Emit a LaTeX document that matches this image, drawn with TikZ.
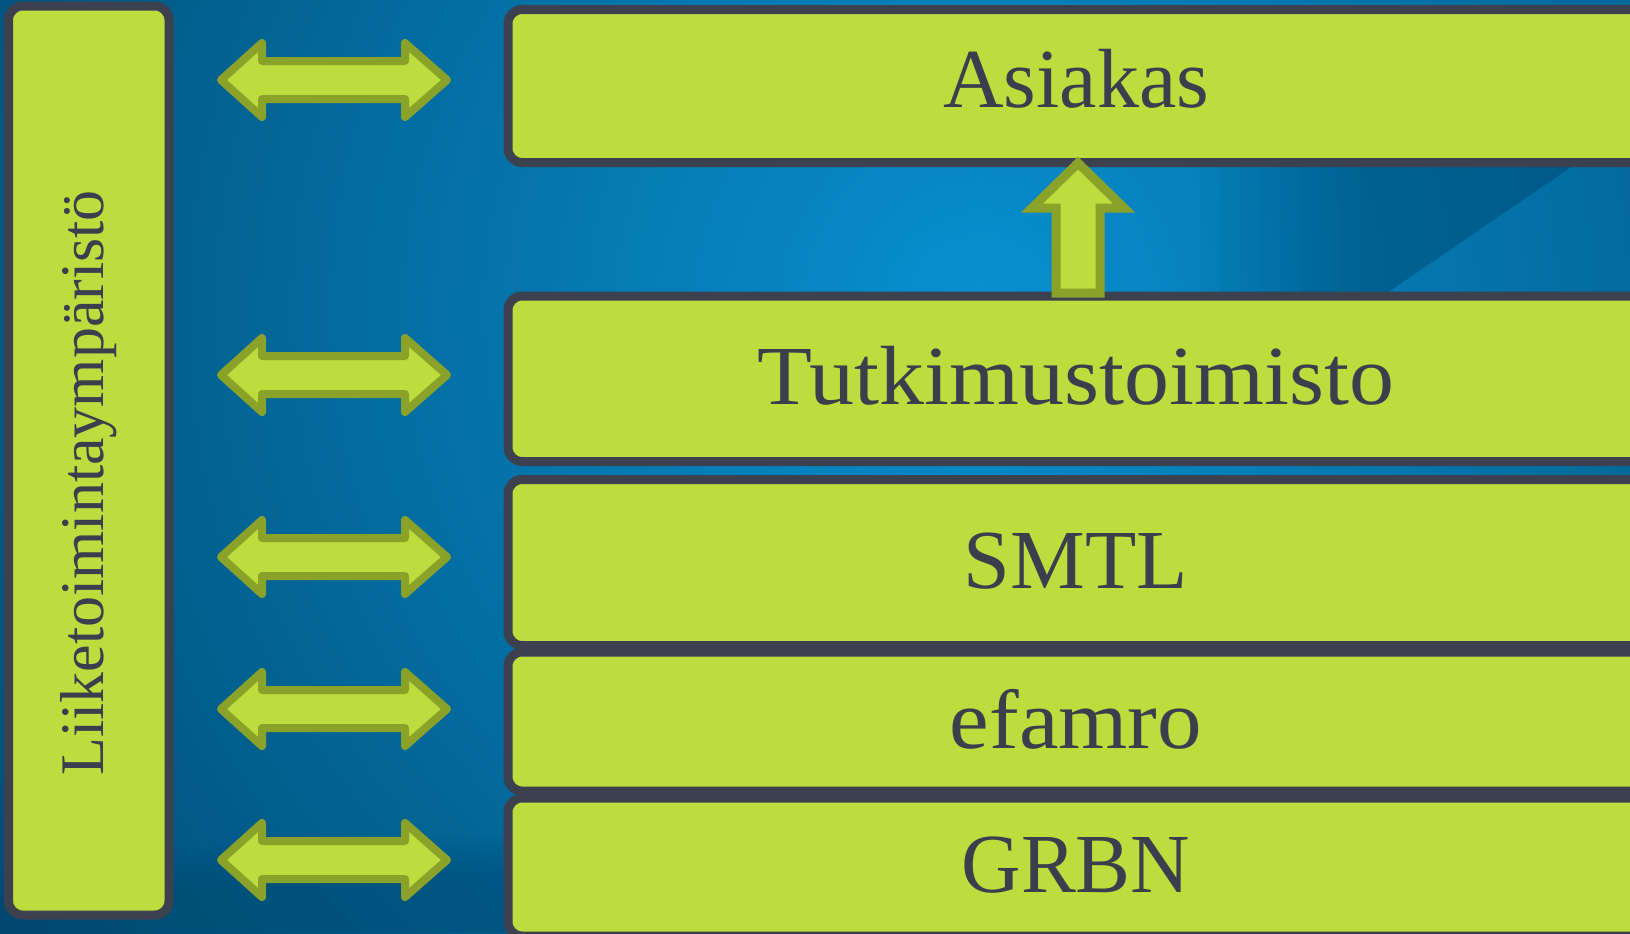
\documentclass[tikz,border=0pt]{standalone}
\usepackage{fontspec}
\setmainfont{Liberation Serif}
\definecolor{bgdark}{HTML}{00486F}
\definecolor{bgbright}{HTML}{0890D0}
\definecolor{bgbase}{HTML}{005E8E}
\definecolor{boxgreen}{HTML}{BBDD3D}
\definecolor{arrowolive}{HTML}{8AA22A}
\definecolor{boxedge}{HTML}{3C4150}
\definecolor{txt}{HTML}{3A3F4E}
\tikzset{
  greenbox/.style={draw=boxedge, fill=boxgreen, line width=4.5pt, rounded corners=7pt, inner sep=0pt},
  boxtext/.style={text=txt, font=\fontsize{42}{50}\selectfont, inner sep=0pt, anchor=base},
  sidetext/.style={text=txt, font=\fontsize{31}{37}\selectfont, inner sep=0pt, anchor=base, rotate=90},
  dblarrow/.style={draw=arrowolive, fill=boxgreen, line width=4pt, line join=round},
  uparrow/.style={draw=arrowolive, fill=boxgreen, line width=4.5pt, line join=miter},
}
\begin{document}
\begin{tikzpicture}[x=0.5pt,y=-0.5pt]
\useasboundingbox (0,0) rectangle (1630,933);
\begin{scope}
\clip (0,0) rectangle (1630,933);
% background
\fill[bgbase] (0,0) rectangle (1630,933);
\shade[inner color=bgbright, outer color=bgdark] (980,310) circle[radius=1250];
\foreach \i in {0,...,6}{
  \fill[bgdark, opacity=0.07] (0,{905-\i*6}) .. controls (300,{860-\i*6}) and (700,{870-\i*6}) .. (1000,{890-\i*6}) -- (1000,933) -- (0,933) -- cycle;
}
\foreach \i in {0,...,8}{
  \fill[bgdark, opacity=0.06] ({1200+\i*20},160) -- (1581,160) -- (1372,303) -- ({1200+\i*20},303) -- cycle;
}

% left bar
\node[greenbox, minimum width=80.25pt, minimum height=454.5pt] (env) at (88.75,460.5) {};
\node[sidetext] (envT) at (104,483) {Liiketoimintaympäristö};

% right boxes
\node[greenbox, minimum width=596pt, minimum height=76.5pt] (b1) at (1104,86) {};
\node[greenbox, minimum width=596pt, minimum height=82.75pt] (b2) at (1104,378.75) {};
\node[greenbox, minimum width=596pt, minimum height=83pt] (b3) at (1104,562.5) {};
\node[greenbox, minimum width=596pt, minimum height=69.5pt] (b4) at (1104,721.5) {};
\node[greenbox, minimum width=596pt, minimum height=69pt] (b5) at (1104,867) {};

\node[boxtext] (t1) at (1076,107) {Asiakas};
\node[boxtext] (t2) at (1076,404) {\scalebox{1.07}[1]{Tutkimustoimisto}};
\node[boxtext] (t3) at (1076,588) {SMTL};
\node[boxtext] (t4) at (1076,748) {\scalebox{1.06}[1]{efamro}};
\node[boxtext] (t5) at (1076,892) {\scalebox{0.98}[1]{GRBN}};

% double arrows
\foreach \c in {80,375,557,709,860}{
  \draw[dblarrow] (221,\c) -- ++(41,-37) -- ++(0,18) -- ++(143,0) -- ++(0,-18)
     -- ++(42,37) -- ++(-42,37) -- ++(0,-18) -- ++(-143,0) -- ++(0,18) -- cycle;
}

% up arrow
\draw[uparrow] (1078,163) -- (1124,208) -- (1100,208) -- (1100,293) -- (1056,293)
   -- (1056,208) -- (1032,208) -- cycle;
\end{scope}
\end{tikzpicture}
\end{document}
